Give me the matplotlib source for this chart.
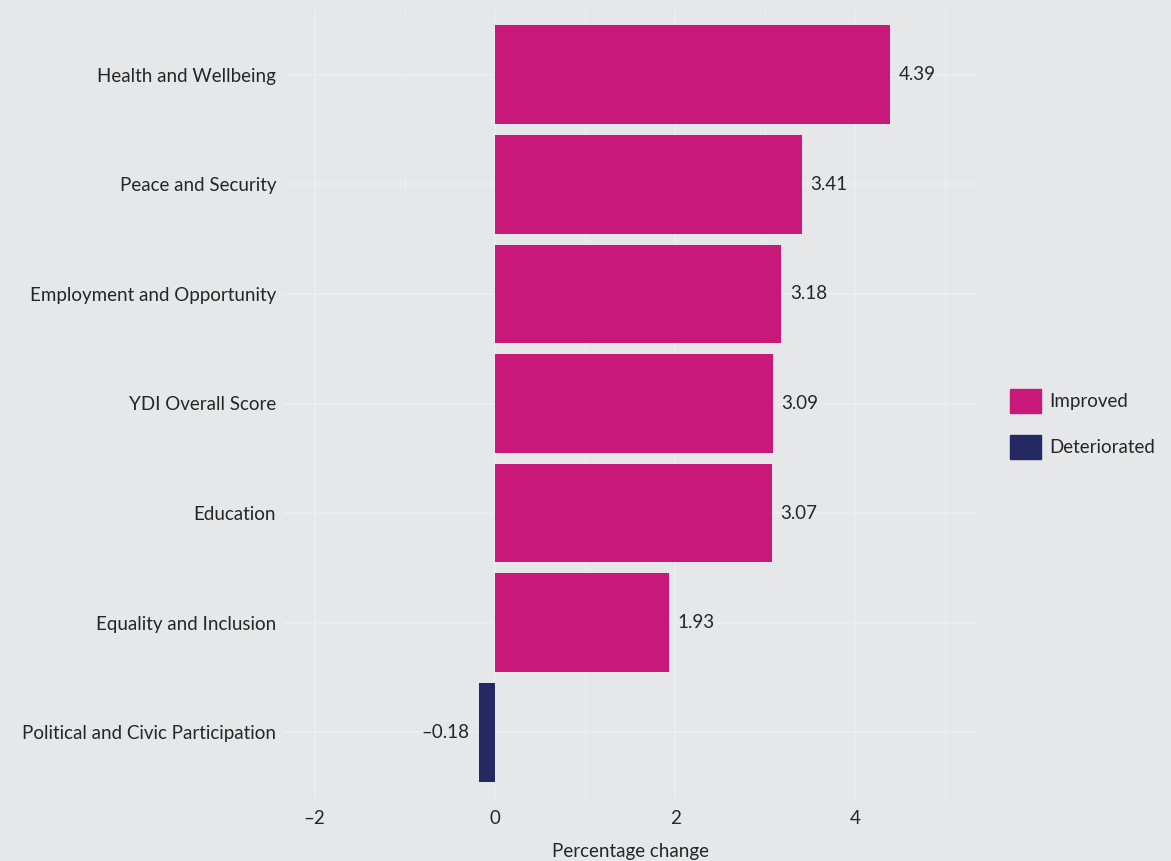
import matplotlib.pyplot as plt
from matplotlib.patches import Patch

categories = ['Health and Wellbeing', 'Peace and Security', 'Employment and Opportunity',
              'YDI Overall Score', 'Education', 'Equality and Inclusion',
              'Political and Civic Participation']
changes = [4.39, 3.41, 3.18, 3.09, 3.07, 1.93, -0.18]
x_ticks = [-2, 0, 2, 4]

pink = '#C8197A'
navy = '#242963'
bg = '#E6E7E9'
grid = '#ECEDEE'
text_col = '#262626'
fs = 13.5

plt.rcParams['font.family'] = ['Lato', 'DejaVu Sans']

fig = plt.figure(figsize=(11.71, 8.61), dpi=100, facecolor=bg)
ax = fig.add_axes([283 / 1171, 63 / 861, 694 / 1171, 789 / 861])
ax.set_facecolor(bg)

# top category at the top
ypos = list(range(len(categories), 0, -1))
colors = [pink if v >= 0 else navy for v in changes]
ax.barh(ypos, changes, height=0.9, color=colors, zorder=2)

for y, v in zip(ypos, changes):
    label = f'{v:.2f}'.replace('-', '\u2013')
    if v >= 0:
        ax.annotate(label, (v, y), xytext=(6, 0), textcoords='offset points',
                    ha='left', va='center', fontsize=fs, color=text_col)
    else:
        ax.annotate(label, (v, y), xytext=(-6.5, 0), textcoords='offset points',
                    ha='right', va='center', fontsize=fs, color=text_col)

ax.set_xlim(-2.35, 5.35)
ax.set_ylim(0.4, len(categories) + 0.6)
ax.set_xticks(x_ticks)
ax.set_xticklabels([str(t).replace('-', '\u2013') for t in x_ticks])
ax.set_xticks([-1, 1, 3, 5], minor=True)
ax.set_yticks(ypos)
ax.set_yticklabels(categories)

ax.grid(True, which='major', color=grid, linewidth=1.4, zorder=0)
ax.grid(True, which='minor', axis='x', color=grid, linewidth=0.8, zorder=0)
ax.set_axisbelow(True)
for s in ax.spines.values():
    s.set_visible(False)
ax.tick_params(which='both', length=0, labelsize=fs, colors=text_col, pad=5)
ax.tick_params(axis='x', pad=9)
ax.set_xlabel('Percentage change', fontsize=fs, color=text_col, labelpad=11)

handles = [Patch(color=pink, label='Improved'), Patch(color=navy, label='Deteriorated')]
fig.legend(handles=handles, loc='center left', bbox_to_anchor=(993 / 1171, 1 - 424 / 861),
           frameon=False, fontsize=fs, handlelength=1.65, handleheight=1.65,
           handletextpad=0.45, labelspacing=1.15, labelcolor=text_col)

fig.savefig('out.png', dpi=100, facecolor=bg)
